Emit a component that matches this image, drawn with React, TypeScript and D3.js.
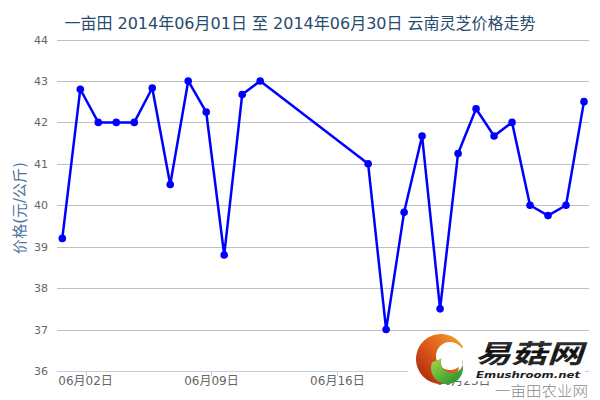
import React from "react";
import * as d3 from "d3";

const TITLE = "一亩田 2014年06月01日 至 2014年06月30日 云南灵芝价格走势";
const Y_TITLE = "价格(元/公斤)";
const days = [1, 2, 3, 4, 5, 6, 7, 8, 9, 10, 11, 12, 18, 19, 20, 21, 22, 23, 24, 25, 26, 27, 28, 29, 30];
const prices = [39.2, 42.8, 42, 42, 42, 42.83, 40.5, 43, 42.25, 38.8, 42.67, 43, 41, 37, 39.83, 41.67, 37.5, 41.25, 42.33, 41.67, 42, 40, 39.75, 40, 42.5];
const yTicks = [36, 37, 38, 39, 40, 41, 42, 43, 44];
const xTickDays = [2, 9, 16, 23];
const xTickLabels = ["06月02日", "06月09日", "06月16日", "06月23日"];
const TICK_OFFSET_HOURS = 7;

const W = 600, H = 400;
const plotLeft = 57, plotRight = 589, plotTop = 39.5, plotBottom = 371;

function crescent(cx: number, cy: number, R: number, cx2: number, cy2: number, r: number, a1: number, a2: number) {
  const n = 40;
  const pts: [number, number][] = [];
  for (let i = 0; i <= n; i++) {
    const t = ((a1 + (a2 - a1) * (i / n)) * Math.PI) / 180;
    pts.push([cx + R * Math.cos(t), cy + R * Math.sin(t)]);
  }
  for (let i = n; i >= 0; i--) {
    const t = ((a1 + (a2 - a1) * (i / n)) * Math.PI) / 180;
    pts.push([cx2 + r * Math.cos(t), cy2 + r * Math.sin(t)]);
  }
  return (d3.line()(pts) || "") + "Z";
}

export default function App() {
  const x = d3
    .scaleTime()
    .domain([new Date(2014, 5, 1), new Date(2014, 5, 30)])
    .range([62.3, 584]);
  const y = d3.scaleLinear().domain([36, 44]).range([plotBottom, plotTop]);
  const pts = days.map((d, i) => ({ date: new Date(2014, 5, d), v: prices[i] }));
  const line = d3
    .line<{ date: Date; v: number }>()
    .x((d) => x(d.date))
    .y((d) => y(d.v));

  const tickX = (d: number) => x(new Date(2014, 5, d, TICK_OFFSET_HOURS));

  return (
    <svg width={W} height={H} style={{ display: "block", position: "absolute", left: 0, top: 0 }}
      fontFamily="'DejaVu Sans', 'Noto Sans CJK SC', sans-serif">
      <defs>
        <linearGradient id="org" x1="1" y1="0" x2="0" y2="1">
          <stop offset="0" stopColor="#f7a531" />
          <stop offset="0.45" stopColor="#e0601c" />
          <stop offset="1" stopColor="#a51d0c" />
        </linearGradient>
        <linearGradient id="grn" x1="0" y1="0" x2="1" y2="1">
          <stop offset="0" stopColor="#a6d84a" />
          <stop offset="1" stopColor="#178a2e" />
        </linearGradient>
        <linearGradient id="txt" x1="0" y1="0" x2="0" y2="1">
          <stop offset="0" stopColor="#555" />
          <stop offset="0.5" stopColor="#111" />
          <stop offset="1" stopColor="#333" />
        </linearGradient>
      </defs>
      <rect width={W} height={H} fill="#fff" />
      <text x={300} y={29} textAnchor="middle" fontSize={16} fill="#274b6d">{TITLE}</text>

      {yTicks.map((t) => (
        <g key={t}>
          <line x1={plotLeft} x2={plotRight} y1={Math.round(y(t)) + 0.5} y2={Math.round(y(t)) + 0.5}
            stroke={t === 36 ? "#C0D0E0" : "#C0C0C0"} strokeWidth={1} />
          <text x={48} y={y(t) + 4} textAnchor="end" fontSize={11} fill="#666">{t}</text>
        </g>
      ))}

      {xTickDays.map((d, i) => (
        <g key={d}>
          <line x1={Math.round(tickX(d)) + 0.5} x2={Math.round(tickX(d)) + 0.5} y1={plotBottom} y2={plotBottom + 5}
            stroke="#C0D0E0" />
          <text x={tickX(d)} y={385} textAnchor="middle" fontSize={12} fill="#666">{xTickLabels[i]}</text>
        </g>
      ))}

      <text transform="translate(25,208) rotate(-90)" textAnchor="middle" fontSize={15} fill="#4d759e">{Y_TITLE}</text>

      <path d={line(pts) || ""} fill="none" stroke="#0000ff" strokeWidth={2.5} strokeLinejoin="round" />
      {pts.map((p, i) => (
        <circle key={i} cx={x(p.date)} cy={y(p.v)} r={3.8} fill="#0000ff" />
      ))}

      <g>
        <rect x={408} y={333} width={177} height={48} fill="#fff" />
        <path d={crescent(441, 359, 25, 450, 356, 14, -30, -310)} fill="url(#org)" />
        <path d={crescent(447, 368, 16, 452, 362, 11, 200, -15)} fill="url(#grn)" />
        <text x={475} y={363} fontSize={26} fontWeight="bold" fontStyle="italic" fill="url(#txt)"
          fontFamily="'Noto Sans CJK SC', sans-serif" textLength={108} lengthAdjust="spacingAndGlyphs">易菇网</text>
        <text x={476} y={378} fontSize={9} fontWeight="bold" fontStyle="italic" fill="#222"
          fontFamily="'DejaVu Sans', sans-serif" textLength={104} lengthAdjust="spacingAndGlyphs">Emushroom.net</text>
        <text x={495} y={396} fontSize={14} fill="#8a8a8a" fontWeight={300}
          fontFamily="'Noto Sans CJK SC', sans-serif" textLength={93} lengthAdjust="spacingAndGlyphs">一亩田农业网</text>
      </g>
    </svg>
  );
}
